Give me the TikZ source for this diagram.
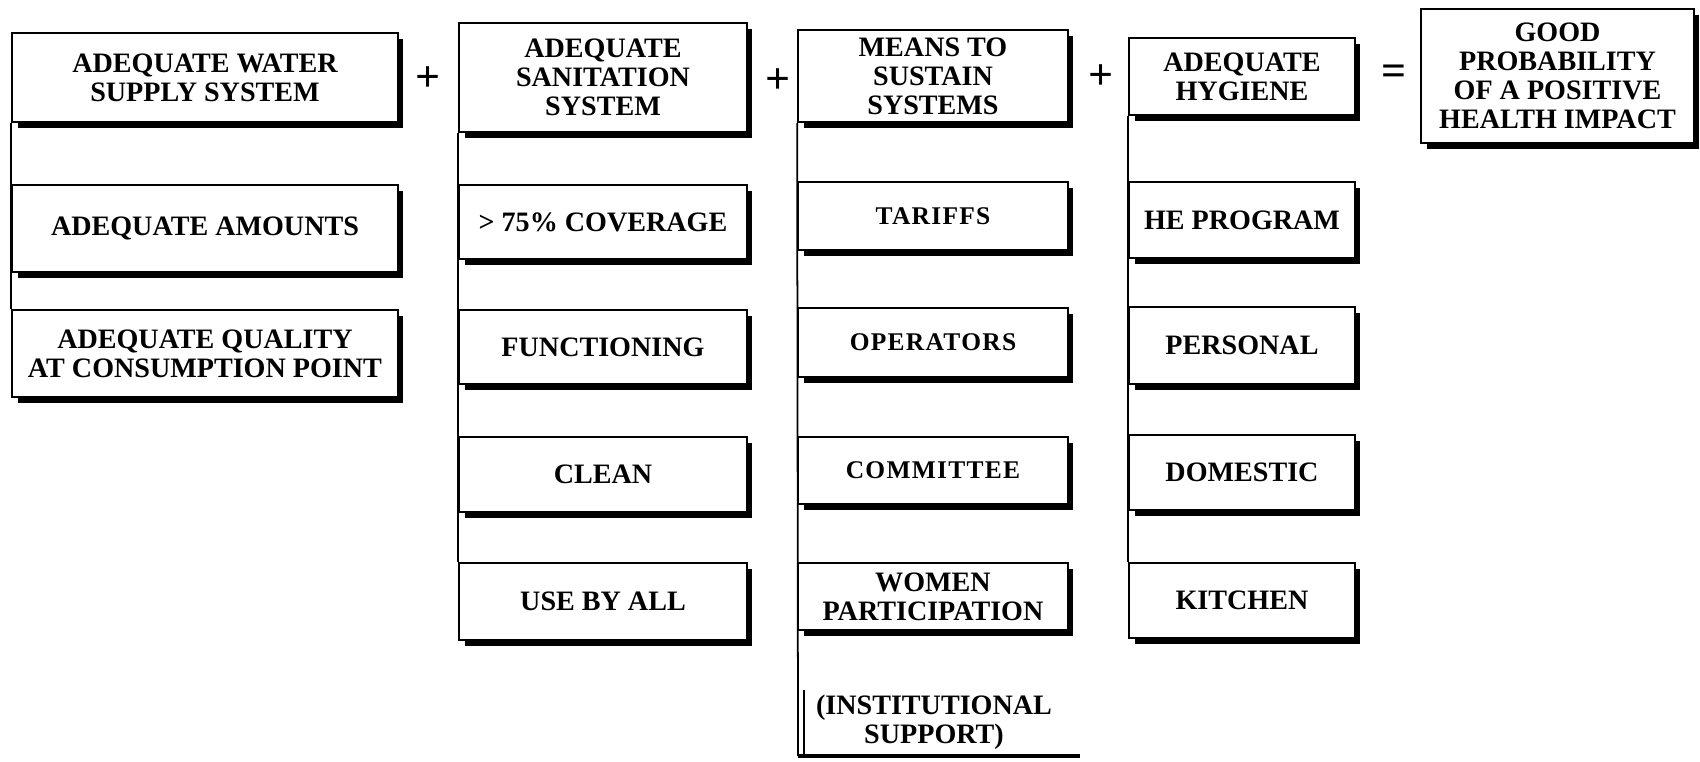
\documentclass[tikz,border=0pt]{standalone}
\usepackage{fontspec}
\setmainfont{Liberation Serif}
\usetikzlibrary{shadows}

\tikzset{
  box/.style={draw, fill=white, line width=1pt, inner sep=2pt, align=center,
    font=\fontsize{16}{16.5}\selectfont\bfseries,
    drop shadow={shadow xshift=0.11cm, shadow yshift=-0.12cm, opacity=1, fill=black}},
  colA/.style={box, minimum width=7.72cm},
  colB/.style={box, minimum width=5.76cm},
  colC/.style={box, minimum width=5.40cm},
  colD/.style={box, minimum width=4.52cm},
  colE/.style={box, minimum width=5.46cm},
  smalltxt/.style={font=\fontsize{14.5}{15}\selectfont\bfseries\addfontfeature{LetterSpace=5}},
  op/.style={font=\fontsize{25}{25}\selectfont\bfseries, inner sep=0pt},
  link/.style={line width=1pt},
}

\begin{document}
\begin{tikzpicture}[x=0.02cm, y=-0.02cm]
  \useasboundingbox (0,0) rectangle (1700,761);

  % water supply
  \node[colA, minimum height=1.78cm] (A1) at (205,77.5) {ADEQUATE WATER\\SUPPLY SYSTEM};
  \node[colA, minimum height=1.74cm] (A2) at (205,228.5) {ADEQUATE AMOUNTS};
  \node[colA, minimum height=1.74cm] (A3) at (205,353.5) {ADEQUATE QUALITY\\AT CONSUMPTION POINT};
  \draw[link] (A1.south west) -- (A3.north west);

  % sanitation
  \node[colB, minimum height=2.18cm] (B1) at (603,77.5) {ADEQUATE\\SANITATION\\SYSTEM};
  \node[colB, minimum height=1.48cm] (B2) at (603,222) {> 75\% COVERAGE};
  \node[colB, minimum height=1.48cm] (B3) at (603,347) {FUNCTIONING};
  \node[colB, minimum height=1.50cm] (B4) at (603,474.5) {CLEAN};
  \node[colB, minimum height=1.54cm] (B5) at (603,601.5) {USE BY ALL};
  \draw[link] (B1.south west) -- (B5.north west);

  % sustaining
  \node[colC, minimum height=1.84cm] (C1) at (933,76) {MEANS TO\\SUSTAIN\\SYSTEMS};
  \node[colC, smalltxt, minimum height=1.36cm] (C2) at (933,216) {TARIFFS};
  \node[colC, smalltxt, minimum height=1.38cm] (C3) at (933,342.5) {OPERATORS};
  \node[colC, smalltxt, minimum height=1.34cm] (C4) at (933,470.5) {COMMITTEE};
  \node[colC, minimum height=1.34cm] (C5) at (933,596.5) {WOMEN\\PARTICIPATION};
  \node[align=center, inner sep=0pt, font=\fontsize{16}{16.5}\selectfont\bfseries]
    (C6) at (934,722) {(INSTITUTIONAL\\SUPPORT)};
  \coordinate (C6top) at (804,690);
  \coordinate (C6bl) at (798,756);
  \coordinate (C6br) at (1080,756);
  \draw[link] (C1.south west) -- (C6bl);
  \draw[link] (C6top) -- (C6top |- C6bl);
  \draw[line width=2.5pt] (C6bl) -- (C6br);

  % hygiene
  \node[colD, minimum height=1.54cm] (D1) at (1242,76.5) {ADEQUATE\\HYGIENE};
  \node[colD, minimum height=1.52cm] (D2) at (1242,220) {HE PROGRAM};
  \node[colD, minimum height=1.54cm] (D3) at (1242,345.5) {PERSONAL};
  \node[colD, minimum height=1.50cm] (D4) at (1242,472.5) {DOMESTIC};
  \node[colD, minimum height=1.50cm] (D5) at (1242,600.5) {KITCHEN};
  \draw[link] (D1.south west) -- (D5.north west);

  % result
  \node[colE, minimum height=2.68cm] (E1) at (1557.5,76) {GOOD\\PROBABILITY\\OF A POSITIVE\\HEALTH IMPACT};

  \node[op] (plusAB) at (428,79) {+};
  \node[op] (plusBC) at (778,81) {+};
  \node[op] (plusCD) at (1101,77) {+};
  \node[op] (equal) at (1394,75) {=};
\end{tikzpicture}
\end{document}
